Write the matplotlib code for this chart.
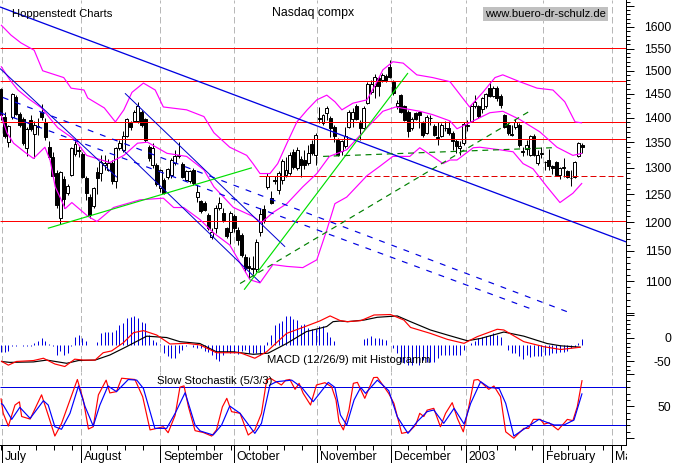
import numpy as np
import matplotlib
matplotlib.use("Agg")
import matplotlib.pyplot as plt
from matplotlib.patches import Rectangle
from matplotlib.ticker import FixedLocator, NullFormatter, FixedFormatter
from matplotlib.transforms import ScaledTranslation

plt.rcParams['font.family'] = ['Liberation Sans', 'DejaVu Sans']

# ---------- candles: open, high, low, close ----------
ohlc = [
(1461,1463,1395,1405),(1402,1412,1358,1362),(1350,1385,1340,1382),(1402,1452,1398,1450),(1442,1448,1405,1408),
(1408,1412,1380,1385),(1398,1402,1345,1348),(1338,1380,1322,1376),(1394,1405,1372,1376),(1367,1392,1318,1385),
(1380,1400,1365,1382),(1412,1428,1395,1402),(1391,1400,1355,1360),(1340,1353,1316,1320),(1321,1330,1280,1285),
(1290,1295,1225,1230),(1207,1293,1197,1291),(1279,1285,1225,1242),(1253,1270,1248,1266),(1287,1340,1285,1338),
(1326,1355,1322,1347),(1334,1342,1320,1333),(1326,1330,1280,1283),(1281,1285,1240,1252),(1246,1250,1208,1213),
(1228,1264,1226,1261),(1291,1302,1250,1280),(1290,1325,1275,1312),(1305,1325,1296,1309),(1295,1316,1293,1309),
(1309,1315,1270,1274),(1275,1340,1262,1338),(1338,1355,1335,1348),(1335,1372,1330,1363),(1363,1400,1360,1398),
(1388,1392,1375,1380),(1392,1415,1390,1412),(1392,1432,1388,1424),(1412,1415,1380,1384),(1398,1400,1350,1355),
(1340,1345,1313,1318),(1305,1348,1299,1338),(1305,1310,1265,1269),(1261,1298,1255,1295),(1277,1280,1250,1253),
(1282,1300,1278,1297),(1286,1318,1280,1315),(1309,1335,1305,1322),(1322,1350,1318,1325),(1308,1312,1280,1282),
(1277,1296,1275,1293),(1274,1296,1272,1293),(1296,1300,1268,1271),(1246,1268,1236,1255),(1237,1240,1216,1219),
(1234,1237,1219,1222),(1213,1216,1186,1189),(1174,1190,1170,1183),(1189,1230,1180,1225),(1225,1245,1222,1234),
(1216,1225,1200,1204),(1189,1192,1172,1175),(1182,1220,1162,1216),(1210,1215,1183,1189),(1186,1192,1160,1169),
(1178,1180,1140,1143),(1140,1145,1115,1121),(1125,1140,1105,1122),(1121,1141,1112,1120),(1120,1170,1115,1165),
(1182,1225,1175,1215),(1223,1230,1198,1204),(1263,1290,1260,1285),(1243,1257,1232,1234),(1277,1285,1270,1274),
(1258,1293,1250,1290),(1277,1316,1270,1313),(1287,1320,1283,1296),(1290,1330,1286,1325),(1331,1336,1298,1302),
(1299,1340,1295,1335),(1316,1322,1283,1305),(1315,1335,1298,1305),(1309,1345,1305,1329),(1347,1355,1325,1328),
(1325,1368,1305,1364),(1397,1422,1388,1400),(1389,1408,1385,1405),(1410,1424,1395,1420),(1400,1403,1360,1378),
(1381,1384,1350,1362),(1355,1358,1322,1325),(1332,1355,1325,1352),(1342,1380,1338,1362),(1381,1415,1378,1412),
(1398,1420,1380,1412),(1424,1428,1395,1398),(1388,1395,1355,1378),(1378,1424,1374,1420),(1431,1475,1428,1471),
(1454,1480,1450,1471),(1466,1492,1440,1486),(1483,1488,1445,1466),(1480,1495,1475,1490),(1488,1492,1476,1480),
(1509,1524,1484,1487),(1476,1480,1447,1451),(1423,1437,1418,1430),(1447,1450,1410,1412),(1423,1426,1393,1395),
(1412,1415,1360,1372),(1378,1401,1375,1398),(1409,1412,1395,1398),(1411,1414,1378,1405),(1388,1392,1360,1365),
(1369,1405,1367,1402),(1400,1405,1385,1399),(1383,1386,1362,1365),(1360,1390,1345,1358),(1362,1388,1360,1385),
(1378,1392,1373,1379),(1378,1392,1365,1369),(1368,1372,1335,1352),(1352,1356,1328,1342),(1338,1352,1325,1342),
(1348,1390,1345,1387),(1382,1394,1372,1384),(1392,1426,1390,1423),(1424,1448,1420,1433),(1424,1427,1400,1404),
(1417,1444,1410,1441),(1423,1452,1420,1449),(1463,1476,1442,1445),(1445,1466,1443,1463),(1463,1467,1435,1440),
(1445,1450,1420,1427),(1405,1408,1378,1380),(1385,1388,1365,1368),(1366,1385,1362,1365),(1380,1398,1376,1390),
(1385,1388,1340,1345),(1332,1340,1322,1331),(1336,1355,1325,1345),(1325,1365,1322,1363),(1363,1366,1322,1325),
(1310,1335,1305,1325),(1327,1340,1318,1328),(1312,1314,1295,1311),(1315,1337,1295,1304),(1304,1306,1288,1299),
(1312,1314,1284,1286),(1286,1302,1278,1299),(1300,1318,1283,1301),(1293,1295,1280,1283),(1281,1296,1265,1280),
(1283,1314,1281,1312),(1323,1350,1320,1348),(1345,1348,1328,1340),
]

# ---------- Bollinger bands ----------
upper_day = [0,2.7,5.4,9,11.3,17,19,22.5,23.5,28,31,33.3,35.5,38.6,41.8,44,50.3,55,57.7,62,66.6,68.3,70.2,72.9,75,77.5,80.2,83,85.6,88.3,90.5,92.4,95.4,99.2,101.9,103.5,106.2,109,112.7,117,121.7,127,130.6,133.9,136,140.6,145.3,149.6,152.8,155.6,157.5]
upper_val = [1605,1581,1563,1546,1500,1485,1462,1458,1441,1420,1391,1416,1453,1473,1458,1422,1416,1402,1369,1340,1324,1308,1289,1289,1308,1348,1391,1416,1437,1447,1433,1416,1430,1437,1476,1502,1520,1517,1491,1485,1476,1422,1453,1485,1491,1476,1462,1458,1433,1391,1389]
middle_day = [0,2.4,4.6,7.9,11,13.3,15.4,20,23.2,29.5,33.3,37,39.7,45,50.3,55,57.7,62,63,68.3,70.6,73.7,77.5,81.8,85.6,89,93.7,99.2,103.5,107,113.5,117,121.7,123.6,128,132.5,136,140.6,146,150.7,155,157.5]
middle_val = [1510,1480,1458,1437,1420,1398,1379,1355,1324,1310,1324,1348,1350,1328,1322,1296,1264,1233,1226,1210,1199,1217,1233,1264,1289,1322,1335,1379,1413,1422,1413,1406,1393,1377,1393,1410,1413,1396,1371,1340,1324,1328]
lower_day = [0,1.6,3.4,6.5,8.8,11.9,13.3,14.7,17.4,19.2,23.6,26,30.5,37.7,44,46.8,49.5,54,57.6,62,64.8,67.5,70.2,73.7,77.5,81.8,85.6,88.3,90.5,93.7,99.2,102.7,106.2,110.8,113.5,117,119.8,121.7,123.6,128,129.8,135.2,138.8,141.5,144.2,148,151.5,155,157.5]
lower_val = [1406,1369,1348,1330,1318,1340,1315,1264,1224,1235,1210,1201,1226,1240,1243,1226,1226,1204,1181,1160,1130,1102,1097,1127,1124,1122,1135,1186,1233,1245,1285,1303,1322,1322,1339,1322,1308,1315,1315,1339,1340,1335,1331,1308,1298,1264,1235,1252,1271]

# ---------- support / resistance and trend lines ----------
red_levels = [1552,1477,1391,1201]
red_short_level = 1357
red_short_start = 15.7
red_dash_level = 1285
red_dash_start = 69.9
red_dash_mid = 86.4
trend_end = 169.4
blue_long = ([-0.27,169.6],[1648,1165])
blue_thin = [([-0.27,31.4],[1505,1282]),([33.6,77],[1451,1157]),([33,70.2],[1335,1098])]
blue_dash = [([0.5,153.6],[1442,1051]),([-0.27,144.5],[1410,1054])]
green_solid = [([12.7,68],[1189,1300]),([65.9,110.3],[1086,1495])]
green_dash = [([64.8,143.9],[1096,1416]),([87.3,149.3],[1322,1339])]

# ---------- MACD ----------
signal_day = [0,2.4,8.8,12.4,17.8,21,25.5,29.5,34,39.5,44.9,48.5,53.9,58.4,63,68.4,72.4,77.4,82.8,88.3,90,91.9,93.9,98.4,102,107.4,111,116.4,121,126.4,130,136.3,141.7,148,151.7,157.1]
signal_val = [-51,-53,-52,-48,-55,-49,-48,-37,-19,4,1,-8,-12,-30,-30,-35.5,-33,-12,14,25,35.5,37,35.5,39,45,48,35.5,17.4,6.5,-6,-1,13,4,-12,-17,-20]
macd_day = [0,2,4.2,8.8,11.5,14.6,17.3,20,22.3,25.5,27.7,30,33.2,35.9,38.6,42.2,45.8,50.3,53.9,58.4,64.8,68.8,72,77.4,82.8,86.4,89.2,91.9,93.9,97.5,101.1,105.6,109.2,111,116.4,121,125.5,129.1,134.5,136.3,141.7,147.2,151.7,157.1]
macd_val = [-50,-59,-51,-49,-44,-56.5,-62,-46,-48,-48,-32,-28,-10,11.6,16,6.5,-13,-11.6,-15,-32,-32,-44,-30,10,26,37,48,38,35.5,37.7,50,51,39,23,10,-3,-11.6,3,19,17.4,-8,-19,-25,-20]
hist_base = -15.2
hist_val = [-14.5,-14.5,-12.3,-1.4,-1.4,-0.7,-1.4,-1.4,-1.4,5,9.4,16,9.4,2.2,-1.4,-21.7,-12.3,-21.7,-16.7,-1.4,18,21.7,16,9.4,0,-0.7,7.2,25.4,29,29,27.5,32.6,43.5,47,58,60,63,58,50.7,47,21.7,10.9,7.2,1.4,-18,-25,-29,-29,-18,-10.9,-1.4,-0.7,-3.6,-7.2,-7.2,-12.3,-14.5,-21.7,-31,-34,-21.7,-14.5,-18,-18,-19.6,-14,-10.9,-16.7,-18,-18,-21.7,-18,7.2,21.7,43.5,47,53,63,63,55.8,54.3,43.5,45.6,36.2,35.5,34,41.3,41.3,29,18,9.4,
-1,-1,1,-1,1,-1,1,12.3,16,19.6,16,14.5,12.3,10.9,0,-7.2,-18,-36,-40,-43.5,-43.5,-40,-43.5,-32.6,-36,-36,-36,-29,-21.7,-21.7,-21.7,-21.7,-21.7,-21.7,-10.9,0,5,9.4,14.5,16.7,19.6,21.7,25.4,21.7,16.7,0,-10.9,-18,-18,-25,-31,-21.7,-26.8,-25,-25,-25,-21.7,-21.7,-18,-16.7,-14.5,-14.5,-12.3,-7.2,-3.6,5,12.3]

# ---------- Slow stochastic ----------
fast_day = [0,.6,2,3.8,5,5.6,7.9,11,12.8,14.6,16.4,18.7,20.7,22.3,23.7,25,26.4,28.5,29.5,31.3,32.7,34.5,36.3,38.4,40.4,42.2,44,45.3,47.2,48.5,49.6,50.8,52.6,54.8,57.1,58.4,60,61.2,62.5,64.8,67,68.8,70.6,72,73,76,77.2,78.3,79.7,80.8,81.9,83.9,85.5,87.8,89.6,90.8,91.6,92.8,94.3,95.5,96.6,98.6,101,102,103.8,105.1,106.5,108.6,110.6,112.4,113.5,114.6,115.5,117.3,119.1,120.5,122.3,123.7,125.3,126.8,128.2,129.3,132.2,133.6,135.4,136.8,139,141.7,143,144.3,146.2,147.2,148.5,151,153.5,155,156.2,157.5]
fast_val = [62.5,39,19,52,57,34,30,68,36,3.4,23,60,92,60,14.4,18,68,91,71,73,94,93,92,65,13,15.4,18,8.6,36,80,82,49.4,11.8,9,3.4,13,49,62.5,41.6,39,5,13,39,91,94,83.4,91,92,76.6,86,70.3,52,83.4,87,80.7,60,26,13,44,86,87.5,62.5,95,95.4,80.7,70,54.6,7.6,10,20.7,39,34,44,46.8,18,39,55.7,31,10,49.4,91,92,76.6,81.8,65,10,0,15.4,15.4,29.5,29.5,22,24.3,13,29.5,27.5,49.4,91]
slow_day = [0,.6,2.9,5.1,7.9,11.5,12.8,14.6,16.4,18.7,21,22.8,25,26.8,29,31.3,34.5,36.8,38.6,41.7,44.9,47.2,49.9,52.6,54,57.5,59.8,62,64.8,68.8,70.6,72.9,74.7,78.8,81.5,84.6,88.7,90.5,92,93.7,95.7,97.5,98.8,102,105.1,107.4,110.3,112.8,115.5,117.3,120,122.8,125.5,127.3,130,132.2,135,136.8,139,141.7,145.8,149.9,152.6,155.3,157.5]
slow_val = [54.6,52,29.5,48.4,31,58.8,52,18,14,39,81.8,49.4,19,52,81.8,73,92,91,78,15.4,15.4,39,71.3,20.7,11.3,5,20.7,50.4,39,7.6,23.3,83.4,88.6,91,79.7,57.2,87.5,79.7,36.3,20.7,60,79.7,70.3,91,74.5,33.7,7.6,25.9,41.6,44.2,23.3,46.8,22.2,54.6,88.6,79.7,78,54.6,3.4,14,29.5,20.7,20.7,28.5,70.3]
stoch_levels = [80,20]

# ---------- axes labels ----------
month_days = [0.14,21.7,43.1,63.1,85.6,105.7,126,146.9,165.6]
month_labels = ['July','August','September','October','November','December','2003','February','Mar']
price_ticks = list(range(1050,1651,50))
price_labels = ['' if t in (1050,1650) else str(t) for t in price_ticks]
macd_ticks = [50,0,-50]
macd_labels = ['','0','-50']
stoch_ticks = [100,50,0]
stoch_labels = ['','50','']

W,H = 674,463
fig = plt.figure(figsize=(W/100,H/100),dpi=100,facecolor='white')
PLOT_R = 626
LW = 0.72
CURVE = 0.85
def make_ax(top,bot):
    a = fig.add_axes([0,1-bot/H,PLOT_R/W,(bot-top)/H],facecolor='none')
    a.set_xlim(-0.27,169.4)
    for s in ('top','left','bottom'):
        a.spines[s].set_visible(False)
    a.spines['right'].set_linewidth(LW)
    a.set_xticks([])
    a.yaxis.tick_right()
    a.tick_params(axis='y',which='major',length=5.8,width=LW,pad=26.6,labelsize=8.8,right=True,left=False)
    a.tick_params(axis='y',which='minor',length=2.9,width=LW,right=True,left=False)
    return a

def right_align(a):
    for t in a.yaxis.get_major_ticks():
        t.label2.set_ha('right')

GRID = dict(color='#b8b8b8',lw=LW,ls=(0,(6.5,3.5)),zorder=1)
def month_lines(a):
    for d in month_days:
        a.axvline(d,**GRID)

# --- price panel ---
ax = make_ax(0,313)
ax.set_yscale('log')
ax.set_ylim(1600*np.exp(-(313-27)/678),1600*np.exp(27/678))
ax.yaxis.set_major_locator(FixedLocator(price_ticks))
ax.yaxis.set_major_formatter(FixedFormatter(price_labels))
ax.yaxis.set_minor_locator(FixedLocator([v for v in range(1050,1661,10) if v%50]))
ax.yaxis.set_minor_formatter(NullFormatter())
right_align(ax)
month_lines(ax)

o,h,l,c = map(np.array,zip(*ohlc))
days = np.arange(len(ohlc))*157.5/(len(ohlc)-1)
ax.vlines(days,l,h,color='black',lw=LW,zorder=2)
up = c>=o
ax.bar(days[up],(c-o)[up],bottom=o[up],width=0.8,facecolor='white',edgecolor='black',lw=LW,zorder=2.1)
ax.bar(days[~up],(o-c)[~up],bottom=c[~up],width=0.8,facecolor='black',edgecolor='black',lw=LW,zorder=2.1)

line = dict(zorder=3,solid_capstyle='butt')
dline = dict(zorder=3,dash_capstyle='butt')
for yy in red_levels:
    ax.plot([-0.27,trend_end],[yy,yy],color='#ff0000',lw=LW,**line)
ax.plot([red_short_start,trend_end],[red_short_level]*2,color='#ff0000',lw=LW,**line)
ax.plot([red_dash_start,red_dash_mid],[red_dash_level]*2,color='#ff0000',lw=LW,**line)
ax.plot([red_dash_mid,trend_end],[red_dash_level]*2,color='#e00000',lw=LW,ls=(0,(6,3)),**dline)
ax.plot(upper_day,upper_val,color='#ff00ff',lw=CURVE,**line)
ax.plot(middle_day,middle_val,color='#ff00ff',lw=CURVE,**line)
ax.plot(lower_day,lower_val,color='#ff00ff',lw=CURVE,**line)
ax.plot(*blue_long,color='#0000e0',lw=CURVE*1.1,**line)
for xs,ys in blue_thin:
    ax.plot(xs,ys,color='#0000d0',lw=LW,**line)
for xs,ys in blue_dash:
    ax.plot(xs,ys,color='#0000e0',lw=CURVE,ls=(0,(5,6)),**dline)
for xs,ys in green_solid:
    ax.plot(xs,ys,color='#00e000',lw=CURVE,**line)
for xs,ys in green_dash:
    ax.plot(xs,ys,color='#008000',lw=CURVE,ls=(0,(5,4)),**dline)

fig.text(12/W,1-14/H,'Hoppenstedt Charts',fontsize=8.1,va='center',ha='left')
fig.text(272/W,1-13/H,'Nasdaq compx',fontsize=8.8,va='center',ha='left')
fig.text(485/W,1-14/H,'www.buero-dr-schulz.de',fontsize=8.1,va='center',ha='left',
         bbox=dict(facecolor='#c0c0c0',edgecolor='none',pad=1.5))

# --- MACD panel ---
ax2 = make_ax(313,372)
ax2.set_ylim((338-372)*50/23,(338-313)*50/23)
ax2.yaxis.set_major_locator(FixedLocator(macd_ticks))
ax2.yaxis.set_major_formatter(FixedFormatter(macd_labels))
ax2.yaxis.set_minor_locator(FixedLocator([40,30,20,10,-10,-20,-30,-40,-60,-70]))
ax2.yaxis.set_minor_formatter(NullFormatter())
right_align(ax2)
month_lines(ax2)
hist_x = np.arange(len(hist_val))*157.5/(len(hist_val)-1)
ax2.vlines(hist_x,hist_base,[hist_base+v for v in hist_val],color='#0000e0',lw=LW,zorder=2)
ax2.plot(signal_day,signal_val,color='black',lw=CURVE,clip_on=False,**line)
ax2.plot(macd_day,macd_val,color='#ff0000',lw=CURVE,clip_on=False,**line)
fig.text(267/W,1-360/H,'MACD (12/26/9) mit Histogramm',fontsize=8.1,va='center',ha='left',zorder=10)

# --- stochastic panel ---
ax3 = make_ax(372,445)
ax3.set_ylim((438.2-445)/0.638,(438.2-372)/0.638)
ax3.yaxis.set_major_locator(FixedLocator(stoch_ticks))
ax3.yaxis.set_major_formatter(FixedFormatter(stoch_labels))
ax3.yaxis.set_minor_locator(FixedLocator([90,80,70,60,40,30,20,10]))
ax3.yaxis.set_minor_formatter(NullFormatter())
right_align(ax3)
month_lines(ax3)
for lv in stoch_levels:
    ax3.plot([-0.27,trend_end],[lv,lv],color='#0000e0',lw=LW,**line)
ax3.plot(fast_day,fast_val,color='#ff0000',lw=CURVE,clip_on=False,**line)
ax3.plot(slow_day,slow_val,color='#0000ff',lw=CURVE,clip_on=False,**line)
fig.text(157/W,1-381/H,'Slow Stochastik (5/3/3)',fontsize=8.1,va='center',ha='left',zorder=10)

ax3.spines['bottom'].set_visible(True)
ax3.spines['bottom'].set_linewidth(LW)
ax3.set_xticks(month_days)
ax3.set_xticklabels(month_labels,ha='left',fontsize=8.8)
ax3.set_xticks(np.arange(0,170,4.8),minor=True)
ax3.tick_params(axis='x',which='major',length=13,width=LW,pad=-8.5)
ax3.tick_params(axis='x',which='minor',length=3.6,width=LW)
off = ScaledTranslation(3/100,0,fig.dpi_scale_trans)
clip = Rectangle((0,0),(PLOT_R+1)/W,1,transform=fig.transFigure)
for t in ax3.get_xticklabels():
    t.set_transform(t.get_transform()+off)
    t.set_clip_path(clip)

fig.savefig('out.png',dpi=100)
